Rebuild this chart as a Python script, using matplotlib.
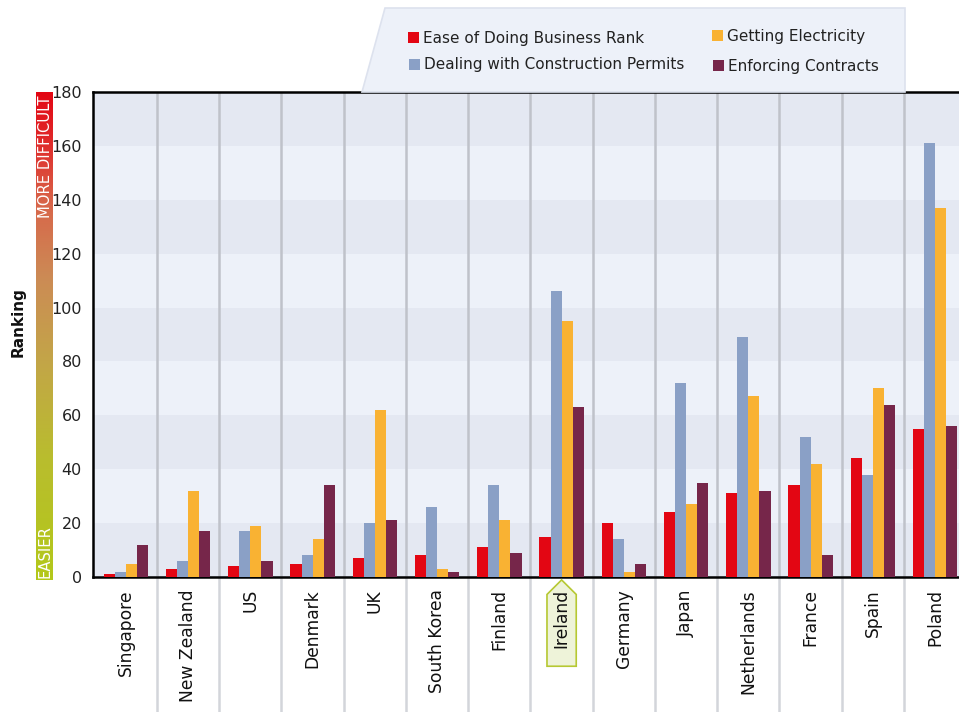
import numpy as np
import matplotlib
matplotlib.use("Agg")
import matplotlib.pyplot as plt
from matplotlib.patches import Polygon, Rectangle
from matplotlib.colors import LinearSegmentedColormap

# data
countries = ["Singapore", "New Zealand", "US", "Denmark", "UK", "South Korea", "Finland",
             "Ireland", "Germany", "Japan", "Netherlands", "France", "Spain", "Poland"]
ease_rank = [1, 3, 4, 5, 7, 8, 11, 15, 20, 24, 31, 34, 44, 55]
construction = [2, 6, 17, 8, 20, 26, 34, 106, 14, 72, 89, 52, 38, 161]
electricity = [5, 32, 19, 14, 62, 3, 21, 95, 2, 27, 67, 42, 70, 137]
contracts = [12, 17, 6, 34, 21, 2, 9, 63, 5, 35, 32, 8, 64, 56]
series_names = ["Ease of Doing Business Rank", "Dealing with Construction Permits",
                "Getting Electricity", "Enforcing Contracts"]
yticks = list(range(0, 181, 20))

c_red = "#e30613"
c_blue = "#8aa0c6"
c_orange = "#f9b233"
c_purple = "#76264a"
band_dark = "#e4e8f2"
band_light = "#edf1f9"

plt.rcParams["font.family"] = ["DejaVu Sans"]

W, H = 959, 712
fig = plt.figure(figsize=(W / 100, H / 100), dpi=100)

ax = fig.add_axes([93 / W, (H - 577) / H, (959 - 93) / W, 485 / H])
ax.set_xlim(-0.528, 13.384)
ax.set_ylim(0, 180)

# alternating horizontal bands
for i, lo in enumerate(range(0, 180, 20)):
    ax.axhspan(lo, lo + 20, color=band_dark if i % 2 == 0 else band_light, zorder=0, lw=0)

x = np.arange(len(countries))
bw = 0.178
ax.bar(x - 1.5 * bw, ease_rank, bw, color=c_red, zorder=3)
ax.bar(x - 0.5 * bw, construction, bw, color=c_blue, zorder=3)
ax.bar(x + 0.5 * bw, electricity, bw, color=c_orange, zorder=3)
ax.bar(x + 1.5 * bw, contracts, bw, color=c_purple, zorder=3)

# vertical separators running through the label area
trans = ax.get_xaxis_transform()
for b in np.arange(0.5, len(countries) - 0.5, 1.0):
    ax.plot([b, b], [1, 0], transform=trans, color="#bfc2ca", lw=1.8, zorder=1)
    ax.plot([b, b], [0, -0.29], transform=trans, color="#d3d5da", lw=1.8,
            clip_on=False, zorder=1)

for s in ["left", "bottom", "top"]:
    ax.spines[s].set_color("black")
    ax.spines[s].set_linewidth(1.8)
ax.spines["right"].set_visible(False)

ax.set_yticks(yticks)
ax.set_yticklabels([str(v) for v in yticks], fontsize=11.5, color="#222222")
ax.tick_params(axis="y", length=0, pad=8)
ax.set_xticks([])

# Ireland highlight tag
hw = 0.235
ix = countries.index("Ireland")
tag = Polygon([[ix, -0.006], [ix + hw, -0.036], [ix + hw, -0.184],
               [ix - hw, -0.184], [ix - hw, -0.036]], closed=True,
              transform=trans, facecolor="#eef3d9", edgecolor="#b6c832",
              lw=1.2, clip_on=False, zorder=4)
ax.add_patch(tag)

for i, name in enumerate(countries):
    ax.text(i, -0.025, name, transform=trans, rotation=90, ha="center", va="top",
            fontsize=12.3, color="#111111", zorder=5)

# gradient bar
gax = fig.add_axes([36 / W, (H - 580) / H, 17 / W, 488 / H])
cmap = LinearSegmentedColormap.from_list(
    "diff", [(0.0, "#b3c81a"), (0.25, "#b9bd2e"), (0.45, "#c3a548"),
             (0.62, "#cc8b55"), (0.77, "#d8664a"), (0.9, "#e02a2a"), (1.0, "#e30613")])
grad = np.linspace(0, 1, 256).reshape(-1, 1)
gax.imshow(grad, aspect="auto", cmap=cmap, origin="lower", extent=[0, 1, 0, 1])
gax.set_axis_off()
gax.text(0.55, 0.993, "MORE DIFFICULT", rotation=90, ha="center", va="top",
         color="white", fontsize=10.6, transform=gax.transAxes)
gax.text(0.55, 0.004, "EASIER", rotation=90, ha="center", va="bottom",
         color="white", fontsize=10.6, transform=gax.transAxes)

fig.text(18 / W, 1 - 322 / H, "Ranking", rotation=90, ha="center", va="center",
         fontsize=11, fontweight="bold", color="#111111")

# legend panel with slanted left edge
panel = Polygon([[385 / W, 1 - 8 / H], [905 / W, 1 - 8 / H], [905 / W, 1 - 92 / H],
                 [362 / W, 1 - 92 / H]], closed=True, transform=fig.transFigure,
                facecolor=band_light, edgecolor="#dde2ee", lw=1.2, zorder=0)
fig.patches.append(panel)

legend_items = [
    (series_names[0], c_red, 408, 38),
    (series_names[1], c_blue, 409, 65),
    (series_names[2], c_orange, 712, 36),
    (series_names[3], c_purple, 713, 66),
]
for label, col, px, py in legend_items:
    fig.patches.append(Rectangle((px / W, 1 - (py + 5) / H), 11 / W, 11 / H,
                                 transform=fig.transFigure, facecolor=col, lw=0))
    fig.text((px + 15) / W, 1 - py / H, label, ha="left", va="center",
             fontsize=11, color="#222222")

fig.savefig("out.png", dpi=100)
